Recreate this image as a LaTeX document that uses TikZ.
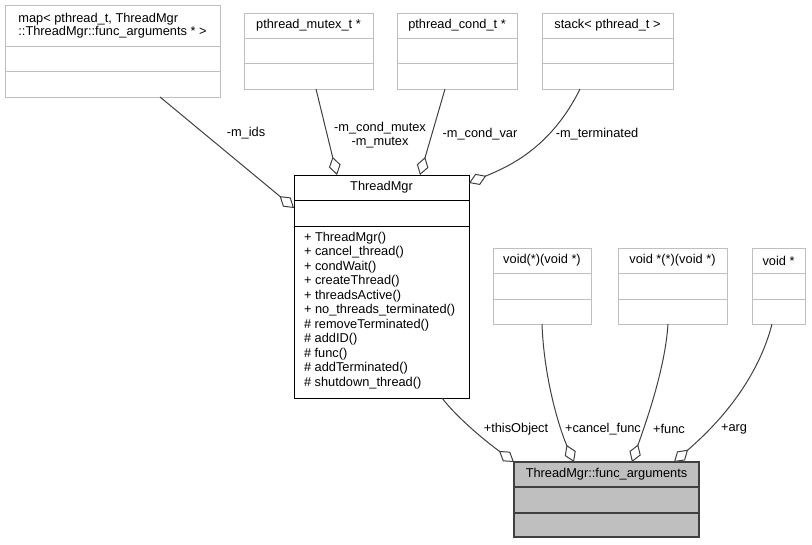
\documentclass[tikz,border=0pt]{standalone}
\usepackage{fontspec}
\setmainfont{Liberation Sans}
\usetikzlibrary{arrows.meta,calc}
\definecolor{edgec}{HTML}{404040}
\definecolor{boxg}{HTML}{BFBFBF}
\newcommand{\umlbox}[8]{%
  \node[#8, minimum width={(#4-#2)*0.75pt}, minimum height={(#5-#3)*0.75pt}, anchor=north west] (#1) at (#2,#3) {};
  \draw[#8line] (#2,#6) -- (#4,#6) (#2,#7) -- (#4,#7);
}
\begin{document}
\begin{tikzpicture}[x=0.75pt,y=-0.75pt,
  every node/.style={font=\fontsize{9.6}{11}\selectfont, inner sep=0pt, outer sep=0pt},
  typebox/.style={draw=boxg, line width=0.75pt, rectangle},
  typeboxline/.style={draw=boxg, line width=0.75pt},
  mainbox/.style={draw=black, line width=0.75pt, rectangle},
  mainboxline/.style={draw=black, line width=0.75pt},
  focusbox/.style={draw=edgec, fill=boxg, line width=1pt, rectangle},
  focusboxline/.style={draw=edgec, line width=1pt},
  lbl/.style={font=\fontsize{9.6}{11}\selectfont, align=center},
  agg/.style={draw=edgec, line width=0.75pt, {Diamond[fill=white, length=14pt, width=9pt, line width=0.75pt]}-}
]
\useasboundingbox (0,0) rectangle (812,544);

% boxes
\umlbox{map}{5}{5}{220}{97}{46}{71}{typebox}
\node[align=left, font=\fontsize{9.6}{9.4}\selectfont] (mapt) at (112.5,25.5) {map< pthread\_t, ThreadMgr\\::ThreadMgr::func\_arguments * >};

\umlbox{mutex}{244}{13}{373}{89}{38}{63}{typebox}
\node (mutext) at (308.5,25.5) {pthread\_mutex\_t *};

\umlbox{cond}{397}{13}{517}{89}{38}{63}{typebox}
\node (condt) at (457,25.5) {pthread\_cond\_t *};

\umlbox{stack}{542}{13}{673}{89}{38}{63}{typebox}
\node (stackt) at (607.5,25.5) {stack< pthread\_t >};

\umlbox{tm}{294}{175}{469}{398}{200}{226}{mainbox}
\node (tmt) at (381.5,187.5) {ThreadMgr};
\foreach \t [count=\i from 0] in {+ ThreadMgr(), + cancel\_thread(), + condWait(), + createThread(), + threadsActive(), + no\_threads\_terminated(), \# removeTerminated(), \# addID(), \# func(), \# addTerminated(), \# shutdown\_thread()}
  \node[anchor=west] (meth\i) at (304,{238+14.5*\i}) {\t};

\umlbox{vcf}{493}{248}{591}{324}{273}{299}{typebox}
\node (vcft) at (542,260.5) {void(*)(void *)};

\umlbox{vf}{618}{248}{727}{324}{273}{299}{typebox}
\node (vft) at (672.5,260.5) {void *(*)(void *)};

\umlbox{va}{752}{248}{805}{324}{273}{299}{typebox}
\node (vat) at (778.5,260.5) {void *};

\umlbox{fa}{514}{462}{699}{537}{487}{513}{focusbox}
\node (fat) at (606.5,474.5) {ThreadMgr::func\_arguments};

% connectors
\draw[agg] ($(tm.north west)+(0,33)$) -- ($(map.south west)+(155,0)$);
\draw[agg] ($(tm.north west)+(43,0)$) -- ($(mutex.south west)+(72,0)$);
\draw[agg] ($(tm.north west)+(126,0)$) -- ($(cond.south west)+(48,0)$);
\draw[agg] ($(tm.north east)+(0,8)$) .. controls (505,168) and (550,150) .. ($(stack.south west)+(38,0)$);

\draw[agg] (fa.north west) .. controls (480,437) and (455,415) .. ($(tm.south west)+(148,0)$);
\draw[agg] ($(fa.north west)+(60,0)$) .. controls (560,430) and (544,380) .. ($(vcf.south west)+(49,0)$);
\draw[agg] ($(fa.north west)+(118,0)$) .. controls (645,425) and (665,370) .. ($(vf.south west)+(50,0)$);
\draw[agg] ($(fa.north west)+(160,0)$) .. controls (705,435) and (755,390) .. ($(va.south west)+(20,0)$);

% labels
\node[lbl] (l1) at (246,133) {-m\_ids};
\node[lbl, font=\fontsize{9.6}{10.5}\selectfont] (l2) at (380,135) {-m\_cond\_mutex\\-m\_mutex};
\node[lbl] (l3) at (480,134) {-m\_cond\_var};
\node[lbl] (l4) at (597,134) {-m\_terminated};
\node[lbl] (l5) at (516,429) {+thisObject};
\node[lbl] (l6) at (603,429) {+cancel\_func};
\node[lbl] (l7) at (669,429) {+func};
\node[lbl] (l8) at (734,429) {+arg};
\end{tikzpicture}
\end{document}
